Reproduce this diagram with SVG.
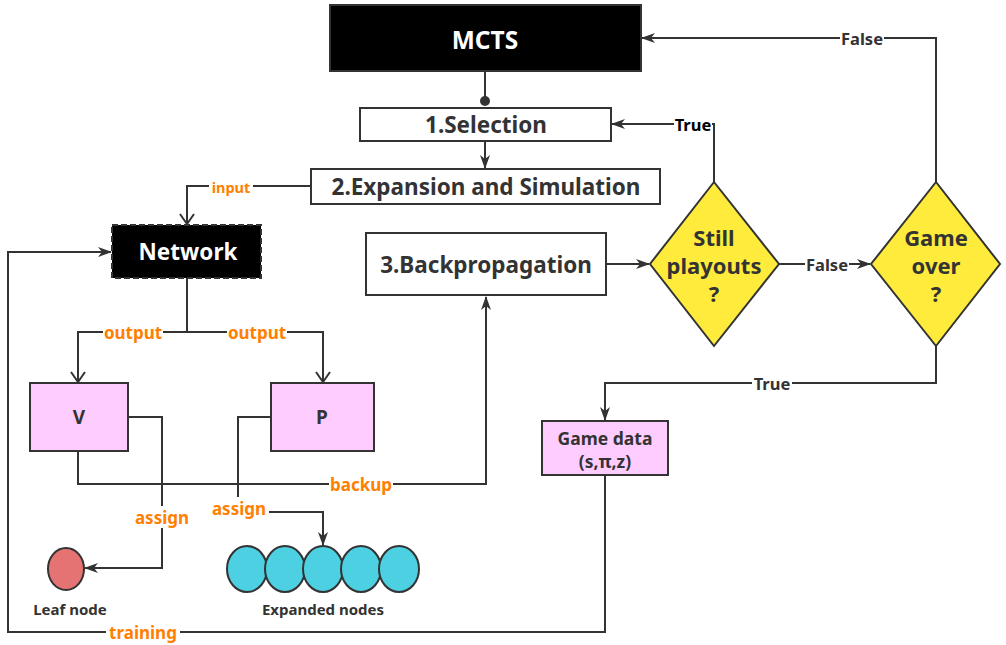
<svg xmlns="http://www.w3.org/2000/svg" width="1006" height="645" viewBox="0 0 1006 645">
<defs>
<style>
.box{stroke:#333;stroke-width:2}
.blk{fill:#000}
.wht{fill:#fff}
.pink{fill:#ffccff}
.yel{fill:#ffeb3b}
.ln{fill:none;stroke:#333;stroke-width:2}
.t{font-family:"Noto Sans","Open Sans","DejaVu Sans",sans-serif;font-weight:bold;text-anchor:middle;dominant-baseline:central}
.tw{fill:#fff}
.td{fill:#333}
.lab{fill:#ff8000;font-size:17px}
.lbg{fill:#fff}
</style>
<marker id="fa" markerUnits="userSpaceOnUse" viewBox="0 0 14 10" markerWidth="14" markerHeight="10" refX="13" refY="5" orient="auto">
<path d="M0,0 L14,5 L0,10 L4,5 z" fill="#333"/>
</marker>
<marker id="oa" markerUnits="userSpaceOnUse" viewBox="0 0 12 16" markerWidth="12" markerHeight="16" refX="11" refY="8" orient="auto">
<path d="M1,1 L11,8 L1,15" fill="none" stroke="#333" stroke-width="2"/>
</marker>
</defs>
<rect width="1006" height="645" fill="#fff"/>

<g id="connectors">
<line class="ln" x1="485" y1="71" x2="485" y2="100"/>
<circle cx="485" cy="101" r="5" fill="#333"/>
<path class="ln" d="M485,141 V168" marker-end="url(#fa)"/>
<path class="ln" d="M311,186 H187 V224" marker-end="url(#oa)"/>
<path class="ln" d="M187,278 V332"/>
<path class="ln" d="M187,332 H78 V382" marker-end="url(#oa)"/>
<path class="ln" d="M187,332 H323 V382" marker-end="url(#oa)"/>
<path class="ln" d="M128,417 H162 V568 H85" marker-end="url(#fa)"/>
<path class="ln" d="M78,451 V484 H486 V297" marker-end="url(#fa)"/>
<path class="ln" d="M271,417 H238 V512 H323 V545" marker-end="url(#fa)"/>
<path class="ln" d="M606,264 H649" marker-end="url(#fa)"/>
<path class="ln" d="M714,182 V124 H612" marker-end="url(#fa)"/>
<path class="ln" d="M779,264 H870" marker-end="url(#fa)"/>
<path class="ln" d="M936,182 V38 H642" marker-end="url(#fa)"/>
<path class="ln" d="M936,346 V383 H605 V420" marker-end="url(#fa)"/>
<path class="ln" d="M605,475 V632 H8 V252 H111" marker-end="url(#fa)"/>

<rect class="lbg" x="209" y="178" width="44" height="18"/>
<text class="t lab" x="231" y="187" style="font-size:14.5px">input</text>
<rect class="lbg" x="103" y="322" width="60" height="20"/>
<text class="t lab" x="133" y="332">output</text>
<rect class="lbg" x="227" y="322" width="60" height="20"/>
<text class="t lab" x="257" y="332">output</text>
<rect class="lbg" x="133" y="506" width="58" height="22"/>
<text class="t lab" x="162" y="517">assign</text>
<rect class="lbg" x="329" y="474" width="64" height="20"/>
<text class="t lab" x="361" y="484">backup</text>
<rect class="lbg" x="209" y="497" width="60" height="22"/>
<text class="t lab" x="239" y="508">assign</text>
<rect class="lbg" x="106" y="622" width="74" height="20"/>
<text class="t lab" x="143" y="632">training</text>
<rect class="lbg" x="674" y="114" width="38" height="20"/>
<text class="t" x="693" y="124" style="font-size:16.5px;fill:#000">True</text>
<rect class="lbg" x="805" y="254" width="44" height="20"/>
<text class="t td" x="827" y="264" style="font-size:16.5px">False</text>
<rect class="lbg" x="840" y="28" width="44" height="20"/>
<text class="t td" x="862" y="38" style="font-size:16.5px">False</text>
<rect class="lbg" x="752" y="373" width="40" height="20"/>
<text class="t td" x="772" y="383" style="font-size:16.5px">True</text>
</g>

<g id="mcts">
<rect class="box blk" x="330" y="5" width="311" height="66"/>
<text class="t tw" x="485" y="39" style="font-size:24.5px">MCTS</text>
</g>
<g id="selection">
<rect class="box wht" x="360" y="108" width="251" height="33"/>
<text class="t td" x="486" y="124" style="font-size:22.5px">1.Selection</text>
</g>
<g id="expansion">
<rect class="box wht" x="311" y="169" width="349" height="35"/>
<text class="t td" x="486" y="186" style="font-size:22.5px">2.Expansion and Simulation</text>
</g>
<g id="network">
<rect class="blk" x="112" y="225" width="149" height="53" stroke="#333" stroke-width="2" stroke-dasharray="6 3"/>
<text class="t tw" x="188" y="251" style="font-size:22.5px">Network</text>
</g>
<g id="backprop">
<rect class="box wht" x="366" y="233" width="240" height="62"/>
<text class="t td" x="486" y="264" style="font-size:22.5px">3.Backpropagation</text>
</g>
<g id="still">
<polygon class="box yel" points="714,182 779,264 714,346 650,264"/>
<text class="t td" x="714" y="237" style="font-size:22px">Still</text>
<text class="t td" x="714" y="265" style="font-size:22px">playouts</text>
<text class="t td" x="714" y="293" style="font-size:22px">?</text>
</g>
<g id="gameover">
<polygon class="box yel" points="936,182 1000,264 936,346 871,264"/>
<text class="t td" x="936" y="237" style="font-size:22px">Game</text>
<text class="t td" x="936" y="265" style="font-size:22px">over</text>
<text class="t td" x="936" y="293" style="font-size:22px">?</text>
</g>
<g id="v">
<rect class="box pink" x="30" y="383" width="98" height="68"/>
<text class="t td" x="79" y="417" style="font-size:19px">V</text>
</g>
<g id="p">
<rect class="box pink" x="271" y="383" width="103" height="68"/>
<text class="t td" x="322" y="417" style="font-size:19px">P</text>
</g>
<g id="gamedata">
<rect class="box pink" x="542" y="421" width="126" height="54"/>
<text class="t td" x="605" y="438" style="font-size:17.5px">Game data</text>
<text class="t td" x="605" y="461" style="font-size:17.5px">(s,π,z)</text>
</g>
<g id="leaf">
<ellipse class="box" cx="66" cy="569" rx="18" ry="21" fill="#e57373"/>
<text class="t td" x="70" y="609" style="font-size:15px">Leaf node</text>
</g>
<g id="expanded">
<ellipse class="box" cx="247" cy="569" rx="20" ry="23" fill="#4dd0e1"/>
<ellipse class="box" cx="285" cy="569" rx="20" ry="23" fill="#4dd0e1"/>
<ellipse class="box" cx="323" cy="569" rx="20" ry="23" fill="#4dd0e1"/>
<ellipse class="box" cx="361" cy="569" rx="20" ry="23" fill="#4dd0e1"/>
<ellipse class="box" cx="399" cy="569" rx="20" ry="23" fill="#4dd0e1"/>
<text class="t td" x="323" y="609" style="font-size:15px">Expanded nodes</text>
</g>
</svg>
